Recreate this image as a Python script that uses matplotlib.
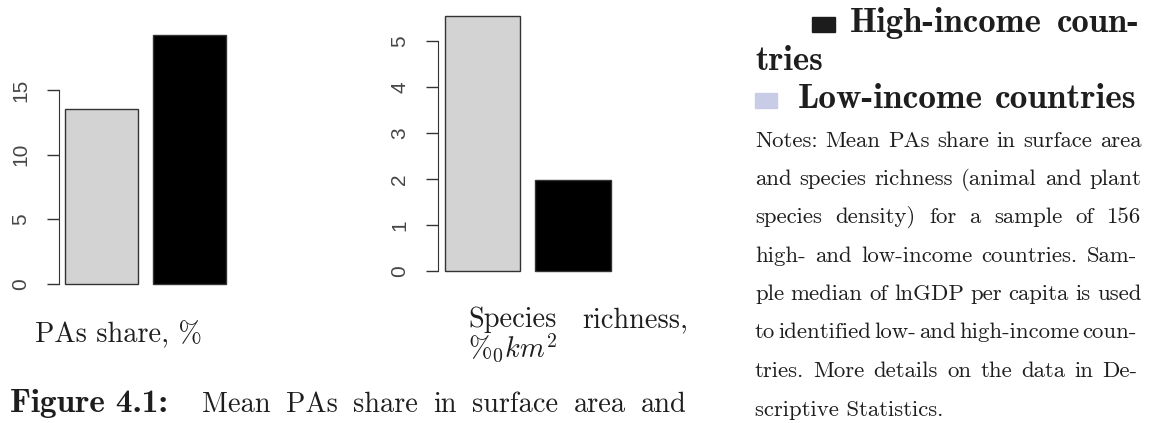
import matplotlib
matplotlib.use("Agg")
import matplotlib.pyplot as plt
from matplotlib.patches import Rectangle

W, H = 1151, 423

# data (low-income first, high-income second)
groups = ["Low-income countries", "High-income countries"]
pas_share = [13.55, 19.25]
species_richness = [5.55, 1.98]
bar_colors = ["#d3d3d3", "#000000"]

pas_ticks = [0, 5, 10, 15]
sr_ticks = [0, 1, 2, 3, 4, 5]

label_pas = "PAs share, %"
label_sr = ["Species", "richness,"]
label_sr2 = r"$\%_0 km^2$"
caption_bold = "Figure 4.1:"
caption_rest = "Mean PAs share in surface area and"

legend_high = ["High-income", "coun-"]
legend_high2 = "tries"
legend_low = ["Low-income", "countries"]
legend_colors = ["#1c1c1c", "#c9cce6"]

notes = [
    "Notes: Mean PAs share in surface area",
    "and species richness (animal and plant",
    "species density) for a sample of 156",
    "high- and low-income countries. Sam-",
    "ple median of lnGDP per capita is used",
    "to identified low- and high-income coun-",
    "tries. More details on the data in De-",
    "scriptive Statistics.",
]

TXT = "#1e1e1e"
AX = "#333333"

plt.rcParams["mathtext.fontset"] = "cm"
plt.rcParams["font.family"] = ["Liberation Sans", "DejaVu Sans"]
fig = plt.figure(figsize=(W / 100, H / 100), dpi=100)
renderer = fig.canvas.get_renderer()


def px_axes(x0, y0, x1, y1):
    return fig.add_axes([x0 / W, 1 - y1 / H, (x1 - x0) / W, (y1 - y0) / H])


def barpanel(ax, values, ticks, ylim):
    ax.bar([0.7, 1.9], values, width=1.0, color=bar_colors,
           edgecolor=AX, linewidth=1)
    ax.set_xlim(0.112, 2.488)
    ax.set_ylim(*ylim)
    for s in ["top", "right", "bottom"]:
        ax.spines[s].set_visible(False)
    ax.spines["left"].set_bounds(ticks[0], ticks[-1])
    ax.spines["left"].set_color(AX)
    ax.set_xticks([])
    ax.set_yticks(ticks)
    ax.tick_params(axis="y", length=8.6, width=1, color=AX, pad=12,
                   labelsize=15, labelcolor="#454545", labelrotation=90)
    for lab in ax.get_yticklabels():
        lab.set_va("center")
    ax.patch.set_alpha(0)


ax1 = px_axes(58.6, 25.0, 232.1, 294.0)
barpanel(ax1, pas_share, pas_ticks, (-0.77, 20.03))

ax2 = px_axes(438.0, 5.8, 617.4, 280.9)
barpanel(ax2, species_richness, sr_ticks, (-0.222, 5.772))


def put(s, x, y, size, family="cmr10"):
    return fig.text(x / W, 1 - y / H, s, fontsize=size, family=family,
                    color=TXT, va="baseline", ha="left")


def justify(words, x0, x1, y, size, family="cmr10"):
    objs = [put(w, 0, y, size, family) for w in words]
    widths = [o.get_window_extent(renderer).width for o in objs]
    gap = (x1 - x0 - sum(widths)) / max(len(words) - 1, 1)
    x = x0
    for o, w in zip(objs, widths):
        o.set_x(x / W)
        x += w + gap


# left column text
put(label_pas, 35, 342, 20.4)
justify(label_sr, 468, 688, 327, 20.4)
put(label_sr2, 468, 357, 20.4)
put(caption_bold, 10, 412, 24, "cmb10")
justify(caption_rest.split(), 202, 687, 412, 20.4)

# legend + notes (right column)
fig.patches.append(Rectangle((811.7 / W, 1 - 32 / H), 23.3 / W, 15 / H,
                             transform=fig.transFigure, color=legend_colors[0]))
justify(legend_high, 850, 1140, 32, 25, "cmb10")
put(legend_high2, 755, 70, 25, "cmb10")
fig.patches.append(Rectangle((755 / W, 1 - 108 / H), 22 / W, 15 / H,
                             transform=fig.transFigure, color=legend_colors[1]))
justify(legend_low, 798, 1137, 108, 25.5, "cmb10")

baselines = [147, 185, 223, 262, 300, 338, 377, 416]
for i, (line, yb) in enumerate(zip(notes, baselines)):
    if i == len(notes) - 1:
        put(line, 755, yb, 16.4)
    else:
        right = 1137 if line.endswith("-") else 1141.5
        justify(line.split(), 755, right, yb, 16.4)

fig.savefig("out.png", dpi=100)
